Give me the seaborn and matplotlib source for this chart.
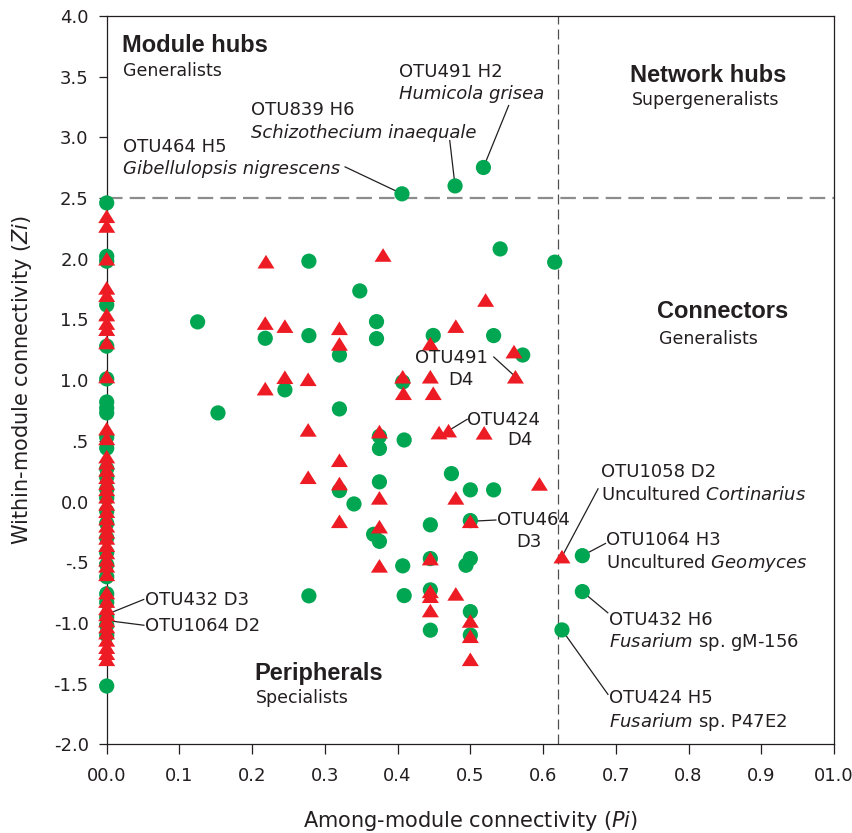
import matplotlib
matplotlib.use("Agg")
import matplotlib.pyplot as plt
from matplotlib.path import Path
import pandas as pd
import seaborn as sns

# ---- node roles: among-module (Pi) vs within-module (Zi) connectivity ----
# nodes confined to a single module (Pi = 0)
h_zero_zi = [2.46, 2.02, 1.98, 1.62, 1.28, 1.01, 0.82, 0.77, 0.73, 0.53, 0.44,
             0.27, 0.2, 0.1, 0.03, -0.08, -0.18, -0.3, -0.42, -0.52, -0.62,
             -0.76, -0.83, -0.95, -1.02, -1.1, -1.52]
d_zero_zi = [2.35, 2.27, 2.0, 1.76, 1.7, 1.54, 1.47, 1.42, 1.31, 1.03, 0.6,
             0.52, 0.37, 0.32, 0.26, 0.2, 0.15, 0.1, 0.04, -0.02, -0.08, -0.14,
             -0.2, -0.25, -0.3, -0.36, -0.42, -0.48, -0.53, -0.6, -0.75, -0.82,
             -0.88, -0.93, -0.98, -1.03, -1.08, -1.14, -1.2, -1.25, -1.3]

# H nodes linking modules
h_pi = [0.125, 0.153, 0.218, 0.245, 0.278, 0.278, 0.278, 0.32, 0.32, 0.32,
        0.34, 0.348, 0.371, 0.371, 0.375, 0.375, 0.375, 0.367, 0.375, 0.406,
        0.407, 0.409, 0.407, 0.409, 0.449, 0.445, 0.445, 0.445, 0.445, 0.474,
        0.479, 0.5, 0.5, 0.5, 0.494, 0.5, 0.5, 0.518, 0.532, 0.532, 0.541,
        0.572, 0.616, 0.626, 0.654, 0.654]
h_zi = [1.48, 0.73, 1.345, 0.92, 1.98, 1.367, -0.777, 1.207, 0.763, 0.09,
        -0.02, 1.735, 1.482, 1.342, 0.537, 0.437, 0.162, -0.27, -0.328, 2.535,
        0.985, 0.507, -0.53, -0.775, 1.368, -0.192, -0.47, -0.728, -1.06, 0.23,
        2.6, 0.096, -0.157, -0.47, -0.525, -0.907, -1.1, 2.752, 1.367, 0.096,
        2.081, 1.207, 1.972, -1.058, -0.446, -0.742]

# D nodes linking modules
d_pi = [0.219, 0.218, 0.245, 0.32, 0.32, 0.38, 0.48, 0.445, 0.521, 0.56,
        0.562, 0.218, 0.245, 0.277, 0.407, 0.408, 0.445, 0.449, 0.277, 0.375,
        0.457, 0.47, 0.519, 0.32, 0.277, 0.595, 0.32, 0.375, 0.48, 0.32,
        0.375, 0.5, 0.375, 0.445, 0.626, 0.445, 0.445, 0.48, 0.445, 0.5,
        0.5, 0.5]
d_zi = [1.976, 1.47, 1.445, 1.427, 1.298, 2.031, 1.445, 1.3, 1.66, 1.235,
        1.028, 0.93, 1.024, 1.007, 1.028, 0.892, 1.028, 0.892, 0.59, 0.576,
        0.568, 0.584, 0.566, 0.34, 0.2, 0.145, 0.148, 0.03, 0.03, -0.163,
        -0.207, -0.163, -0.53, -0.47, -0.454, -0.74, -0.78, -0.761, -0.898,
        -0.984, -1.11, -1.3]

pi_threshold = 0.62
zi_threshold = 2.5

x_ticks = [0.0, 0.1, 0.2, 0.3, 0.4, 0.5, 0.6, 0.7, 0.8, 0.9, 1.0]
x_tick_labels = ["00.0", "0.1", "0.2", "0.3", "0.4", "0.5", "0.6", "0.7",
                 "0.8", "0.9", "01.0"]
y_ticks = [4.0, 3.5, 3.0, 2.5, 2.0, 1.5, 1.0, 0.5, 0.0, -0.5, -1.0, -1.5, -2.0]
y_tick_labels = ["4.0", "3.5", "3.0", "2.5", "2.0", "1.5", "1.0", ".5", "0.0",
                 "-.5", "-1.0", "-1.5", "-2.0"]

# role names and their subtitles
roles = [("Module hubs", "Generalists", 0.021, 3.753, 3.545),
         ("Network hubs", "Supergeneralists", 0.72, 3.51, 3.306),
         ("Connectors", "Generalists", 0.757, 1.564, 1.34),
         ("Peripherals", "Specialists", 0.2035, -1.414, -1.62)]

# labelled nodes: text lines (x, y), leader start, labelled node
labels = [
    ([("OTU491 H2", 0.402, 3.541, "normal"), ("Humicola grisea", 0.402, 3.355, "italic")],
     (0.553, 3.267), (0.518, 2.752)),
    ([("OTU839 H6", 0.199, 3.226, "normal"), ("Schizothecium inaequale", 0.199, 3.039, "italic")],
     (0.4716, 2.979), (0.479, 2.6)),
    ([("OTU464 H5", 0.023, 2.923, "normal"), ("Gibellulopsis nigrescens", 0.023, 2.737, "italic")],
     (0.327, 2.759), (0.406, 2.535)),
    ([("OTU1058 D2", 0.68, 0.241, "normal"), (r"Uncultured $\mathit{Cortinarius}$", 0.68, 0.054, "normal")],
     (0.676, 0.109), (0.626, -0.454)),
    ([("OTU1064 H3", 0.687, -0.316, "normal"), (r"Uncultured $\mathit{Geomyces}$", 0.687, -0.508, "normal")],
     (0.6866, -0.343), (0.654, -0.446)),
    ([("OTU432 H6", 0.69, -0.975, "normal"), (r"$\mathit{Fusarium}$ sp. gM-156", 0.69, -1.154, "normal")],
     (0.6897, -0.92), (0.654, -0.742)),
    ([("OTU424 H5", 0.691, -1.62, "normal"), (r"$\mathit{Fusarium}$ sp. P47E2", 0.691, -1.813, "normal")],
     (0.6897, -1.593), (0.626, -1.058)),
    ([("OTU491", 0.424, 1.18, "normal"), ("D4", 0.469, 1.0, "normal")],
     (0.5316, 1.194), (0.562, 1.028)),
    ([("OTU424", 0.496, 0.672, "normal"), ("D4", 0.551, 0.507, "normal")],
     (0.4964, 0.68), (0.47, 0.584)),
    ([("OTU464", 0.536, -0.152, "normal"), ("D3", 0.563, -0.33, "normal")],
     (0.536, -0.152), (0.5, -0.163)),
    ([("OTU432 D3", 0.053, -0.811, "normal")], (0.0517, -0.805), (0.0, -0.93)),
    ([("OTU1064 D2", 0.053, -1.025, "normal")], (0.052, -1.02), (0.0, -0.98)),
]

sns.set_theme(style="white")
plt.rcParams["font.family"] = ["DejaVu Sans"]
plt.rcParams["mathtext.fontset"] = "dejavusans"

nodes = pd.DataFrame({
    "Pi": [0.0] * len(h_zero_zi) + h_pi + [0.0] * len(d_zero_zi) + d_pi,
    "Zi": h_zero_zi + h_zi + d_zero_zi + d_zi,
    "group": ["H"] * (len(h_zero_zi) + len(h_pi)) + ["D"] * (len(d_zero_zi) + len(d_pi)),
})

green = "#00A651"
red = "#ED1C24"
wide_triangle = Path([(0, 0.8), (-1, -0.8), (1, -0.8), (0, 0.8)],
                     [Path.MOVETO, Path.LINETO, Path.LINETO, Path.CLOSEPOLY])

fig = plt.figure(figsize=(8.53, 8.33), dpi=100)
ax = fig.add_axes([0.1251, 0.1065, 0.8526, 0.8743])

# threshold lines separating the four roles
ax.axhline(zi_threshold, color="#8c8c8c", lw=1.6, linestyle=(0, (7, 3.2)), zorder=1)
ax.axvline(pi_threshold, color="#505050", lw=0.9, linestyle=(0, (8, 4)), zorder=1)

sns.scatterplot(data=nodes, x="Pi", y="Zi", hue="group", style="group",
                size="group", hue_order=["H", "D"],
                palette={"H": green, "D": red},
                markers={"H": "o", "D": wide_triangle},
                sizes={"H": 120, "D": 150},
                linewidth=0, edgecolor="none", legend=False, ax=ax, zorder=3,
                clip_on=False)

ax.set_xlim(0, 1)
ax.set_ylim(-2, 4)
ax.set_xticks(x_ticks)
ax.set_xticklabels(x_tick_labels)
ax.set_yticks(y_ticks)
ax.set_yticklabels(y_tick_labels)
ax.tick_params(axis="x", direction="out", length=7.5, width=0.9, pad=9,
               labelsize=13, colors="#231f20", bottom=True)
ax.tick_params(axis="y", direction="out", length=6, width=0.9, pad=7,
               labelsize=13, colors="#231f20", left=True)
for sp in ax.spines.values():
    sp.set_color("#231f20")
    sp.set_linewidth(0.9)
    sp.set_visible(True)

ax.set_xlabel(r"Among-module connectivity ($\mathit{Pi}$)", fontsize=15,
              color="#231f20", labelpad=17)
ax.set_ylabel(r"Within-module connectivity ($\mathit{Zi}$)", fontsize=15,
              color="#231f20", labelpad=14)

for title, subtitle, tx, ty, sy in roles:
    ax.text(tx, ty, title, fontsize=17, fontweight="bold",
            family=["Liberation Sans", "DejaVu Sans"], color="#231f20",
            ha="left", va="center")
    ax.text(tx + 0.002, sy, subtitle, fontsize=12.5, color="#231f20",
            ha="left", va="center")

for lines, start, node in labels:
    for txt, lx, ly, style in lines:
        ax.text(lx, ly, txt, fontsize=13, fontstyle=style, color="#231f20",
                ha="left", va="center", zorder=4)
    ax.plot([start[0], node[0]], [start[1], node[1]], color="#231f20",
            lw=0.9, zorder=2, solid_capstyle="butt")

fig.savefig("out.png", dpi=100)
